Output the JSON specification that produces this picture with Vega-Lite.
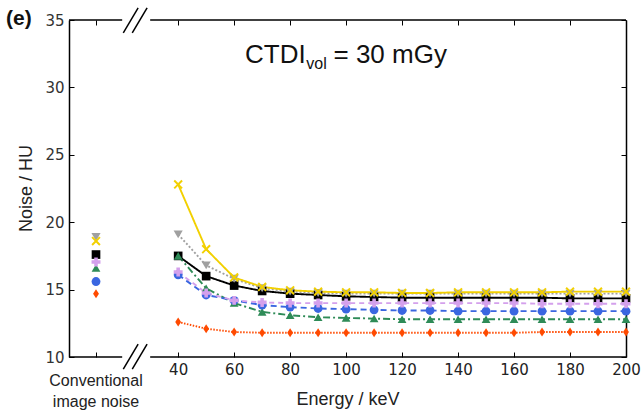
{
  "$schema": "https://vega.github.io/schema/vega-lite/v6.json",
  "width": 557,
  "height": 337,
  "autosize": {"type": "none"},
  "padding": {"left": 69, "top": 20, "right": 15, "bottom": 59},
  "background": "white",
  "config": {"view": {"stroke": null}, "axis": {"grid": false}},
  "datasets": {
    "energy": [
      {"s":"black","e":40,"n":17.5},{"s":"black","e":50,"n":16.0},{"s":"black","e":60,"n":15.3},{"s":"black","e":70,"n":14.9},{"s":"black","e":80,"n":14.7},{"s":"black","e":90,"n":14.6},{"s":"black","e":100,"n":14.5},{"s":"black","e":110,"n":14.45},{"s":"black","e":120,"n":14.4},{"s":"black","e":130,"n":14.4},{"s":"black","e":140,"n":14.4},{"s":"black","e":150,"n":14.4},{"s":"black","e":160,"n":14.4},{"s":"black","e":170,"n":14.4},{"s":"black","e":180,"n":14.35},{"s":"black","e":190,"n":14.35},{"s":"black","e":200,"n":14.35},
      {"s":"green","e":40,"n":17.5},{"s":"green","e":50,"n":15.1},{"s":"green","e":60,"n":14.0},{"s":"green","e":70,"n":13.35},{"s":"green","e":80,"n":13.1},{"s":"green","e":90,"n":12.95},{"s":"green","e":100,"n":12.9},{"s":"green","e":110,"n":12.85},{"s":"green","e":120,"n":12.8},{"s":"green","e":130,"n":12.8},{"s":"green","e":140,"n":12.8},{"s":"green","e":150,"n":12.8},{"s":"green","e":160,"n":12.8},{"s":"green","e":170,"n":12.8},{"s":"green","e":180,"n":12.8},{"s":"green","e":190,"n":12.8},{"s":"green","e":200,"n":12.8},
      {"s":"blue","e":40,"n":16.1},{"s":"blue","e":50,"n":14.6},{"s":"blue","e":60,"n":14.2},{"s":"blue","e":70,"n":13.85},{"s":"blue","e":80,"n":13.7},{"s":"blue","e":90,"n":13.6},{"s":"blue","e":100,"n":13.55},{"s":"blue","e":110,"n":13.5},{"s":"blue","e":120,"n":13.45},{"s":"blue","e":130,"n":13.45},{"s":"blue","e":140,"n":13.4},{"s":"blue","e":150,"n":13.4},{"s":"blue","e":160,"n":13.4},{"s":"blue","e":170,"n":13.4},{"s":"blue","e":180,"n":13.4},{"s":"blue","e":190,"n":13.4},{"s":"blue","e":200,"n":13.4},
      {"s":"violet","e":40,"n":16.3},{"s":"violet","e":50,"n":14.75},{"s":"violet","e":60,"n":14.2},{"s":"violet","e":70,"n":14.05},{"s":"violet","e":80,"n":14.0},{"s":"violet","e":90,"n":14.0},{"s":"violet","e":100,"n":14.0},{"s":"violet","e":110,"n":14.0},{"s":"violet","e":120,"n":14.0},{"s":"violet","e":130,"n":14.0},{"s":"violet","e":140,"n":14.0},{"s":"violet","e":150,"n":14.0},{"s":"violet","e":160,"n":14.0},{"s":"violet","e":170,"n":13.95},{"s":"violet","e":180,"n":13.95},{"s":"violet","e":190,"n":13.95},{"s":"violet","e":200,"n":13.95},
      {"s":"orange","e":40,"n":12.6},{"s":"orange","e":50,"n":12.1},{"s":"orange","e":60,"n":11.85},{"s":"orange","e":70,"n":11.8},{"s":"orange","e":80,"n":11.8},{"s":"orange","e":90,"n":11.8},{"s":"orange","e":100,"n":11.8},{"s":"orange","e":110,"n":11.8},{"s":"orange","e":120,"n":11.8},{"s":"orange","e":130,"n":11.8},{"s":"orange","e":140,"n":11.8},{"s":"orange","e":150,"n":11.8},{"s":"orange","e":160,"n":11.8},{"s":"orange","e":170,"n":11.85},{"s":"orange","e":180,"n":11.85},{"s":"orange","e":190,"n":11.85},{"s":"orange","e":200,"n":11.85},
      {"s":"gray","e":40,"n":19.1},{"s":"gray","e":50,"n":16.8},{"s":"gray","e":60,"n":15.8},{"s":"gray","e":70,"n":15.1},{"s":"gray","e":80,"n":14.85},{"s":"gray","e":90,"n":14.75},{"s":"gray","e":100,"n":14.7},{"s":"gray","e":110,"n":14.7},{"s":"gray","e":120,"n":14.7},{"s":"gray","e":130,"n":14.7},{"s":"gray","e":140,"n":14.7},{"s":"gray","e":150,"n":14.7},{"s":"gray","e":160,"n":14.7},{"s":"gray","e":170,"n":14.7},{"s":"gray","e":180,"n":14.7},{"s":"gray","e":190,"n":14.7},{"s":"gray","e":200,"n":14.7},
      {"s":"yellow","e":40,"n":22.8},{"s":"yellow","e":50,"n":18.0},{"s":"yellow","e":60,"n":15.9},{"s":"yellow","e":70,"n":15.2},{"s":"yellow","e":80,"n":14.95},{"s":"yellow","e":90,"n":14.85},{"s":"yellow","e":100,"n":14.8},{"s":"yellow","e":110,"n":14.8},{"s":"yellow","e":120,"n":14.75},{"s":"yellow","e":130,"n":14.75},{"s":"yellow","e":140,"n":14.8},{"s":"yellow","e":150,"n":14.8},{"s":"yellow","e":160,"n":14.8},{"s":"yellow","e":170,"n":14.8},{"s":"yellow","e":180,"n":14.85},{"s":"yellow","e":190,"n":14.85},{"s":"yellow","e":200,"n":14.85}
    ],
    "conv": [
      {"s":"black","n":17.6},{"s":"green","n":16.6},{"s":"blue","n":15.6},{"s":"violet","n":17.05},{"s":"orange","n":14.7},{"s":"gray","n":18.9},{"s":"yellow","n":18.6}
    ]
  },
  "layer": [
    {
      "data": {"name": "energy"},
      "mark": {"type": "line", "strokeWidth": 1.9},
      "encoding": {
        "x": {"field": "e", "type": "quantitative", "scale": {"domain": [1, 200], "nice": false, "zero": false},
          "axis": {"orient": "bottom", "values": [10.65, 40, 60, 80, 100, 120, 140, 160, 180, 200],
            "labelExpr": "datum.value < 20 ? '' : format(datum.value, 'd')",
            "domain": false, "ticks": true, "tickSize": -5, "tickColor": "black", "tickWidth": 1,
            "labelFont": "DejaVu Sans", "labelFontSize": 15, "labelColor": "#222", "labelPadding": 10,
            "labelFlush": false, "labelOverlap": false,
            "title": "Energy / keV", "titleFont": "Liberation Sans", "titleFontSize": 18, "titleFontWeight": "normal",
            "titleColor": "#222", "titleY": 47, "titleBaseline": "alphabetic"}},
        "y": {"field": "n", "type": "quantitative", "scale": {"domain": [10, 35], "nice": false, "zero": false},
          "axis": {"orient": "left", "values": [10, 15, 20, 25, 30, 35], "domain": true, "domainColor": "black", "domainWidth": 1.5,
            "ticks": true, "tickSize": -5, "tickColor": "black", "tickWidth": 1,
            "labelFont": "DejaVu Sans", "labelFontSize": 15, "labelColor": "#333", "labelPadding": 10,
            "title": "Noise / HU", "titleFont": "Liberation Sans", "titleFontSize": 18, "titleFontWeight": "normal",
            "titleColor": "#222", "titleX": -43, "titleY": 168, "titleAngle": -90, "titleAlign": "center", "titleBaseline": "middle"}},
        "color": {"field": "s", "type": "nominal", "legend": null,
          "scale": {"domain": ["black","green","blue","violet","orange","gray","yellow"],
            "range": ["#000000","#2e8b57","#3a66e0","#d4a0ec","#ff4a00","#a0a0a0","#f2d000"]}},
        "strokeDash": {"field": "s", "type": "nominal", "legend": null,
          "scale": {"domain": ["black","green","blue","violet","orange","gray","yellow"],
            "range": [[1,0],[7,3,2,3],[6,4],[5,4],[1.5,1.5],[2,2],[1,0]]}}
      }
    },
    {
      "data": {"name": "energy"},
      "mark": {"type": "point", "filled": true, "opacity": 1},
      "encoding": {
        "x": {"field": "e", "type": "quantitative", "scale": {"domain": [1, 200], "nice": false, "zero": false}, "axis": null},
        "y": {"field": "n", "type": "quantitative", "scale": {"domain": [10, 35], "nice": false, "zero": false}, "axis": null},
        "color": {"field": "s", "type": "nominal", "legend": null},
        "shape": {"field": "s", "type": "nominal", "legend": null,
          "scale": {"domain": ["black","green","blue","violet","orange","gray","yellow"],
            "range": ["square","triangle-up","circle","cross","M0,-1L0.65,0L0,1L-0.65,0Z","triangle-down","M-1,-0.7L-0.7,-1L0,-0.3L0.7,-1L1,-0.7L0.3,0L1,0.7L0.7,1L0,0.3L-0.7,1L-1,0.7L-0.3,0Z"]}},
        "size": {"field": "s", "type": "nominal", "legend": null,
          "scale": {"domain": ["black","green","blue","violet","orange","gray","yellow"],
            "range": [75, 85, 80, 85, 125, 85, 135]}}
      }
    },
    {
      "data": {"name": "conv"},
      "mark": {"type": "point", "filled": true, "opacity": 1},
      "encoding": {
        "x": {"datum": 10.65, "type": "quantitative", "scale": {"domain": [1, 200], "nice": false, "zero": false}, "axis": null},
        "y": {"field": "n", "type": "quantitative", "scale": {"domain": [10, 35], "nice": false, "zero": false}, "axis": null},
        "color": {"field": "s", "type": "nominal", "legend": null},
        "shape": {"field": "s", "type": "nominal", "legend": null},
        "size": {"field": "s", "type": "nominal", "legend": null}
      }
    },
    {
      "data": {"values": [{}]},
      "mark": {"type": "rule", "color": "black", "strokeWidth": 1.5},
      "encoding": {
        "x": {"datum": 30, "type": "quantitative", "scale": {"domain": [1, 200], "nice": false, "zero": false},
          "axis": {"orient": "top", "values": [10.65, 40, 60, 80, 100, 120, 140, 160, 180, 200], "labels": false, "domain": false,
            "ticks": true, "tickSize": -5, "tickColor": "black", "tickWidth": 1, "title": null}},
        "x2": {"datum": 200},
        "y": {"datum": 35, "type": "quantitative", "scale": {"domain": [10, 35], "nice": false, "zero": false},
          "axis": {"orient": "right", "values": [10, 15, 20, 25, 30, 35], "labels": false, "domain": true, "domainColor": "black", "domainWidth": 1.5,
            "ticks": true, "tickSize": -5, "tickColor": "black", "tickWidth": 1, "title": null}}
      }
    },
    {
      "data": {"values": [{}]},
      "mark": {"type": "rule", "color": "black", "strokeWidth": 1.5},
      "encoding": {
        "x": {"datum": 1, "type": "quantitative", "scale": {"domain": [1, 200], "nice": false, "zero": false}, "axis": null},
        "x2": {"datum": 20},
        "y": {"datum": 35, "type": "quantitative", "scale": {"domain": [10, 35], "nice": false, "zero": false}, "axis": null}
      }
    },
    {
      "data": {"values": [{}]},
      "mark": {"type": "rule", "color": "black", "strokeWidth": 1.5},
      "encoding": {
        "x": {"datum": 1, "type": "quantitative", "scale": {"domain": [1, 200], "nice": false, "zero": false}, "axis": null},
        "x2": {"datum": 20},
        "y": {"datum": 10, "type": "quantitative", "scale": {"domain": [10, 35], "nice": false, "zero": false}, "axis": null}
      }
    },
    {
      "data": {"values": [{}]},
      "mark": {"type": "rule", "color": "black", "strokeWidth": 1.5},
      "encoding": {
        "x": {"datum": 30, "type": "quantitative", "scale": {"domain": [1, 200], "nice": false, "zero": false}, "axis": null},
        "x2": {"datum": 200},
        "y": {"datum": 10, "type": "quantitative", "scale": {"domain": [10, 35], "nice": false, "zero": false}, "axis": null}
      }
    },
    {
      "data": {"values": [{}]},
      "mark": {"type": "rule", "color": "black", "strokeWidth": 1.5},
      "encoding": {
        "x": {"datum": 20.4, "type": "quantitative", "scale": {"domain": [1, 200], "nice": false, "zero": false}, "axis": null},
        "x2": {"datum": 25.7},
        "y": {"datum": 9.1, "type": "quantitative", "scale": {"domain": [10, 35], "nice": false, "zero": false}, "axis": null},
        "y2": {"datum": 10.95}
      }
    },
    {
      "data": {"values": [{}]},
      "mark": {"type": "rule", "color": "black", "strokeWidth": 1.5},
      "encoding": {
        "x": {"datum": 23.6, "type": "quantitative", "scale": {"domain": [1, 200], "nice": false, "zero": false}, "axis": null},
        "x2": {"datum": 28.9},
        "y": {"datum": 9.1, "type": "quantitative", "scale": {"domain": [10, 35], "nice": false, "zero": false}, "axis": null},
        "y2": {"datum": 10.95}
      }
    },
    {
      "data": {"values": [{}]},
      "mark": {"type": "rule", "color": "black", "strokeWidth": 1.5},
      "encoding": {
        "x": {"datum": 20.4, "type": "quantitative", "scale": {"domain": [1, 200], "nice": false, "zero": false}, "axis": null},
        "x2": {"datum": 25.7},
        "y": {"datum": 34.05, "type": "quantitative", "scale": {"domain": [10, 35], "nice": false, "zero": false}, "axis": null},
        "y2": {"datum": 35.9}
      }
    },
    {
      "data": {"values": [{}]},
      "mark": {"type": "rule", "color": "black", "strokeWidth": 1.5},
      "encoding": {
        "x": {"datum": 23.6, "type": "quantitative", "scale": {"domain": [1, 200], "nice": false, "zero": false}, "axis": null},
        "x2": {"datum": 28.9},
        "y": {"datum": 34.05, "type": "quantitative", "scale": {"domain": [10, 35], "nice": false, "zero": false}, "axis": null},
        "y2": {"datum": 35.9}
      }
    },
    {
      "data": {"values": [{}]},
      "mark": {"type": "text", "font": "Liberation Sans", "fontSize": 26, "align": "left", "baseline": "alphabetic", "color": "#111"},
      "encoding": {
        "x": {"datum": 63.9, "type": "quantitative", "scale": {"domain": [1, 200], "nice": false, "zero": false}, "axis": null},
        "y": {"datum": 31.8, "type": "quantitative", "scale": {"domain": [10, 35], "nice": false, "zero": false}, "axis": null},
        "text": {"value": "CTDI"}
      }
    },
    {
      "data": {"values": [{}]},
      "mark": {"type": "text", "font": "Liberation Sans", "fontSize": 16, "align": "left", "baseline": "alphabetic", "color": "#111"},
      "encoding": {
        "x": {"datum": 85.8, "type": "quantitative", "scale": {"domain": [1, 200], "nice": false, "zero": false}, "axis": null},
        "y": {"datum": 31.4, "type": "quantitative", "scale": {"domain": [10, 35], "nice": false, "zero": false}, "axis": null},
        "text": {"value": "vol"}
      }
    },
    {
      "data": {"values": [{}]},
      "mark": {"type": "text", "font": "Liberation Sans", "fontSize": 26, "align": "left", "baseline": "alphabetic", "color": "#111"},
      "encoding": {
        "x": {"datum": 95.5, "type": "quantitative", "scale": {"domain": [1, 200], "nice": false, "zero": false}, "axis": null},
        "y": {"datum": 31.8, "type": "quantitative", "scale": {"domain": [10, 35], "nice": false, "zero": false}, "axis": null},
        "text": {"value": "= 30 mGy"}
      }
    },
    {
      "data": {"values": [{}]},
      "mark": {"type": "text", "font": "Liberation Sans", "fontSize": 21, "fontWeight": "bold", "align": "left", "baseline": "middle", "color": "#111"},
      "encoding": {
        "x": {"datum": -21.5, "type": "quantitative", "scale": {"domain": [1, 200], "nice": false, "zero": false}, "axis": null},
        "y": {"datum": 35.05, "type": "quantitative", "scale": {"domain": [10, 35], "nice": false, "zero": false}, "axis": null},
        "text": {"value": "(e)"}
      }
    },
    {
      "data": {"values": [{}]},
      "mark": {"type": "text", "font": "Liberation Sans", "fontSize": 16, "align": "center", "baseline": "top", "lineHeight": 21, "dy": 16, "color": "#222"},
      "encoding": {
        "x": {"datum": 10.65, "type": "quantitative", "scale": {"domain": [1, 200], "nice": false, "zero": false}, "axis": null},
        "y": {"datum": 10, "type": "quantitative", "scale": {"domain": [10, 35], "nice": false, "zero": false}, "axis": null},
        "text": {"value": ["Conventional", "image noise"]}
      }
    }
  ],
  "resolve": {"axis": {"x": "independent", "y": "independent"}}
}
